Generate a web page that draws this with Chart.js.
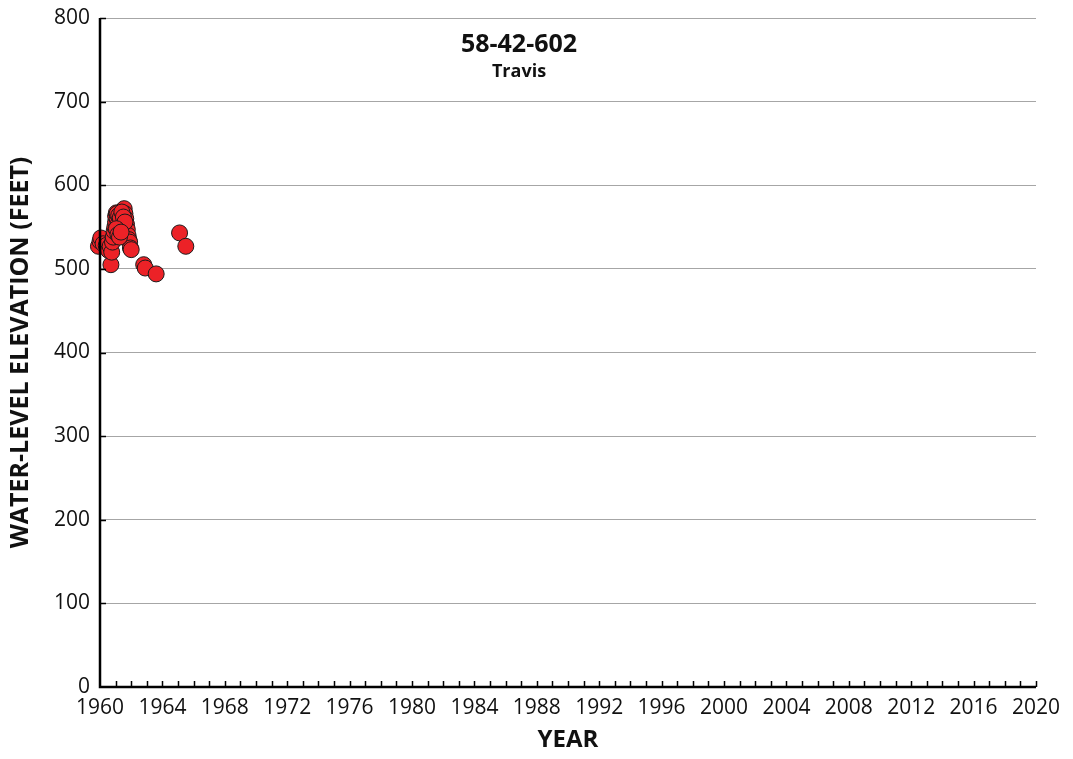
<!DOCTYPE html>
<html>
<head>
<meta charset="utf-8">
<script src="https://cdn.jsdelivr.net/npm/chart.js@4.4.0/dist/chart.umd.min.js"></script>
<style>
  html, body { margin: 0; padding: 0; background: #fff; }
  #wrap { width: 1073px; height: 759px; }
</style>
</head>
<body>
<div id="wrap"><canvas id="wellChart" width="1073" height="759"></canvas></div>
<script>
// --- datos ---
const wellId = '58-42-602';
const county = 'Travis';
const years = [
  1959.9, 1960.0, 1960.05, 1960.2, 1960.4, 1960.55, 1960.65, 1960.7, 1960.75, 1960.8,
  1960.85, 1960.9, 1960.95, 1961.0, 1961.0, 1961.05, 1961.1, 1961.15, 1961.2, 1961.25,
  1961.3, 1961.35, 1961.4, 1961.45, 1961.5, 1961.55, 1961.6, 1961.65, 1961.7, 1961.75,
  1961.8, 1961.85, 1961.9, 1961.95, 1962.0, 1962.8, 1962.9, 1963.6, 1965.1, 1965.5,
  1961.1, 1961.2, 1961.3, 1961.4, 1961.5, 1961.6, 1961.05, 1961.15, 1961.25, 1961.35
];
const elevations = [
  527, 533, 537, 530, 528, 522, 527, 505, 520, 532,
  538, 545, 550, 556, 563, 567, 560, 553, 548, 542,
  545, 552, 558, 565, 570, 572, 566, 560, 553, 547,
  540, 535, 532, 525, 523, 505, 501, 494, 543, 527,
  566, 564, 561, 568, 562, 556, 548, 541, 538, 544
];
const yearMin = 1960, yearMax = 2020;
const elevMin = 0, elevMax = 800;

const FONT = "'Open Sans', sans-serif";

// marcas cortas hacia adentro en ambos ejes
const innerTicks = {
  id: 'innerTicks',
  afterDraw(chart) {
    const { ctx, chartArea, scales } = chart;
    ctx.save();
    ctx.strokeStyle = '#000';
    ctx.lineWidth = 1.5;
    ctx.beginPath();
    for (let yr = yearMin + 1; yr <= yearMax; yr++) {
      const px = Math.round(scales.x.getPixelForValue(yr)) + 0.5;
      ctx.moveTo(px, chartArea.bottom);
      ctx.lineTo(px, chartArea.bottom - 6);
    }
    for (let v = 100; v <= elevMax; v += 100) {
      const py = Math.round(scales.y.getPixelForValue(v)) + 0.5;
      ctx.moveTo(chartArea.left, py);
      ctx.lineTo(chartArea.left + 6, py);
    }
    ctx.stroke();
    // ejes
    ctx.lineWidth = 2.5;
    ctx.beginPath();
    ctx.moveTo(chartArea.left, chartArea.top);
    ctx.lineTo(chartArea.left, chartArea.bottom);
    ctx.lineTo(chartArea.right, chartArea.bottom);
    ctx.stroke();
    ctx.restore();
  }
};

const wellTitle = {
  id: 'wellTitle',
  afterDraw(chart) {
    const { ctx } = chart;
    ctx.save();
    ctx.fillStyle = '#111';
    ctx.textAlign = 'center';
    ctx.textBaseline = 'middle';
    ctx.font = "bold 25px " + FONT;
    ctx.fillText(wellId, 519, 45);
    ctx.font = "bold 18px " + FONT;
    ctx.fillText(county, 519, 72);
    ctx.restore();
  }
};

new Chart(document.getElementById('wellChart'), {
  type: 'scatter',
  data: {
    datasets: [{
      data: years.map((yr, i) => ({ x: yr, y: elevations[i] })),
      backgroundColor: '#ec2227',
      borderColor: '#1a1a1a',
      borderWidth: 1,
      pointRadius: 8,
      clip: false
    }]
  },
  options: {
    responsive: false,
    animation: false,
    layout: { padding: { top: 18, right: 37, left: 6, bottom: 4 } },
    plugins: { legend: { display: false }, tooltip: { enabled: false } },
    scales: {
      x: {
        type: 'linear',
        min: yearMin, max: yearMax,
        border: { display: false },
        grid: { display: false },
        ticks: {
          stepSize: 1,
          autoSkip: false,
          maxRotation: 0,
          padding: 0,
          color: '#111',
          font: { family: FONT, size: 21 },
          callback: v => ((v - yearMin) % 4 === 0 ? String(v) : '')
        },
        title: {
          display: true,
          text: 'YEAR',
          color: '#111',
          font: { family: FONT, size: 24, weight: 'bold' },
          padding: { top: 8, bottom: 0 }
        },
        afterFit: s => { s.height = 68; s.paddingLeft = 0; s.paddingRight = 0; }
      },
      y: {
        min: elevMin, max: elevMax,
        border: { display: false },
        grid: { color: '#a6a6a6', lineWidth: 1, drawTicks: false },
        ticks: {
          stepSize: 100,
          padding: 10,
          color: '#111',
          font: { family: FONT, size: 21 }
        },
        title: {
          display: true,
          text: 'WATER-LEVEL ELEVATION (FEET)',
          color: '#111',
          font: { family: FONT, size: 25, weight: 'bold' },
          padding: { top: 0, bottom: 4 }
        },
        afterFit: s => { s.width = 94; s.paddingTop = 0; s.paddingBottom = 0; }
      }
    }
  },
  plugins: [innerTicks, wellTitle]
});
</script>
</body>
</html>
